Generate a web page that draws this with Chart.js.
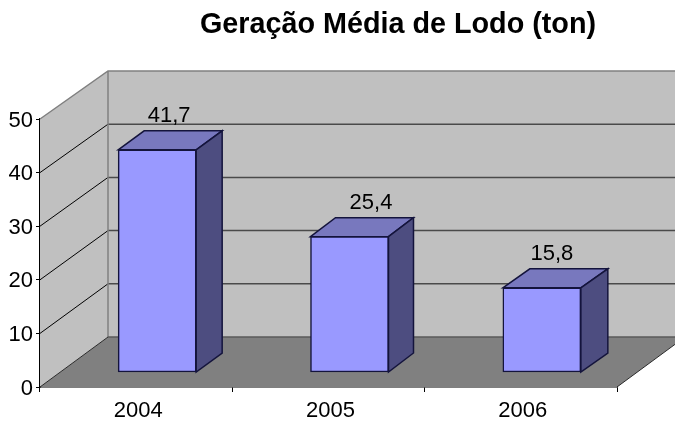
<!DOCTYPE html>
<html>
<head>
<meta charset="utf-8">
<title>Geração Média de Lodo</title>
<script src="https://cdn.jsdelivr.net/npm/chart.js@4"></script>
<style>
    html, body { margin: 0; padding: 0; background: #fff; }
    canvas { display: block; }
</style>
</head>
<body>
<canvas id="myChart" width="675" height="421"></canvas>
<script>
const anos = ['2004', '2005', '2006'];
const lodo = [41.7, 25.4, 15.8];
const etiquetas = ['41,7', '25,4', '15,8'];
const titulo = 'Geração Média de Lodo (ton)';

// the "3D" box: how far the back wall sits from the front axes
const fundoX = 68;
const fundoBase = -50;
const fundoTopo = -48;
// where the bars stand on the floor and how deep they are
const barraX = 21;
const barraY = -15;
const barraFundoX = [26, 25, 27];
const barraFundoY = -19;
// labels are not quite centred over the bars in the original
const etiquetaX = [12, 21.5, 10];
const etiquetaY = -33.5;

function poly(ctx, pts, fill, stroke, lw) {
    ctx.beginPath();
    pts.forEach((p, i) => i ? ctx.lineTo(p[0], p[1]) : ctx.moveTo(p[0], p[1]));
    ctx.closePath();
    if (fill) { ctx.fillStyle = fill; ctx.fill(); }
    if (stroke) { ctx.strokeStyle = stroke; ctx.lineWidth = lw; ctx.stroke(); }
}

const caixa3d = {
    id: 'caixa3d',
    afterLayout(chart) {
        // title is centred over the box, not over the canvas
        chart.titleBlock.left = 121;
        chart.titleBlock.right = 675;
    },
    beforeDatasetsDraw(chart) {
        const ctx = chart.ctx;
        const y = chart.scales.y;
        const x = chart.scales.x;
        const l = x.left, r = x.right;
        const y0 = y.getPixelForValue(0);
        const y50 = y.getPixelForValue(50);
        const fundo = py => py + fundoBase + (fundoTopo - fundoBase) * (y0 - py) / (y0 - y50);

        ctx.save();
        // back wall, side wall, floor
        poly(ctx, [[l + fundoX, fundo(y50)], [r + fundoX, fundo(y50)], [r + fundoX, fundo(y0)], [l + fundoX, fundo(y0)]], '#c0c0c0');
        poly(ctx, [[l, y50], [l + fundoX, fundo(y50)], [l + fundoX, fundo(y0)], [l, y0]], '#c0c0c0');
        poly(ctx, [[l, y0], [l + fundoX, fundo(y0)], [r + fundoX, fundo(y0)], [r, y0]], '#808080');

        // grid lines over side wall and back wall
        y.ticks.forEach(t => {
            const py = y.getPixelForValue(t.value);
            if (t.value > 0 && t.value < 50) {
                ctx.strokeStyle = '#000';
                ctx.lineWidth = 1;
                ctx.beginPath();
                ctx.moveTo(l, py);
                ctx.lineTo(l + fundoX, fundo(py));
                ctx.stroke();
                ctx.strokeStyle = '#4a4a4a';
                ctx.lineWidth = 1.5;
                ctx.beginPath();
                ctx.moveTo(l + fundoX, fundo(py));
                ctx.lineTo(r + fundoX, fundo(py));
                ctx.stroke();
            }
        });

        // wall edges
        ctx.strokeStyle = '#808080';
        ctx.lineWidth = 1.5;
        ctx.beginPath();
        ctx.moveTo(l, y50);
        ctx.lineTo(l + fundoX, fundo(y50));
        ctx.lineTo(r + fundoX, fundo(y50));
        ctx.moveTo(l + fundoX, fundo(y50));
        ctx.lineTo(l + fundoX, fundo(y0));
        ctx.stroke();
        ctx.strokeStyle = '#5a5a5a';
        ctx.beginPath();
        ctx.moveTo(l + fundoX, fundo(y0));
        ctx.lineTo(r + fundoX, fundo(y0));
        ctx.stroke();
        ctx.strokeStyle = '#2a2a2a';
        ctx.lineWidth = 1;
        ctx.beginPath();
        ctx.moveTo(l, y0);
        ctx.lineTo(l + fundoX, fundo(y0));
        ctx.moveTo(r, y0);
        ctx.lineTo(r + fundoX, fundo(y0));
        ctx.stroke();

        // bars are moved back onto the floor, top and side faces first
        ctx.translate(barraX, barraY);
        const meta = chart.getDatasetMeta(0);
        meta.data.forEach((bar, i) => {
            const p = bar.getProps(['x', 'y', 'base', 'width']);
            const a = p.x - p.width / 2, b = p.x + p.width / 2;
            const dx = barraFundoX[i], dy = barraFundoY;
            poly(ctx, [[a, p.y], [a + dx, p.y + dy], [b + dx, p.y + dy], [b, p.y]], '#7878be', '#14143c', 1.5);
            poly(ctx, [[b, p.y], [b + dx, p.y + dy], [b + dx, p.base + dy], [b, p.base]], '#4d4d80', '#14143c', 1.5);
        });
    },
    afterDatasetsDraw(chart) {
        const ctx = chart.ctx;
        const meta = chart.getDatasetMeta(0);
        ctx.fillStyle = '#000';
        ctx.font = '22px "Liberation Sans"';
        ctx.textAlign = 'center';
        ctx.textBaseline = 'middle';
        meta.data.forEach((bar, i) => {
            ctx.fillText(etiquetas[i], bar.x + etiquetaX[i], bar.y + etiquetaY);
        });
        ctx.restore();
    }
};

const chart = new Chart(document.getElementById('myChart').getContext('2d'), {
    type: 'bar',
    data: {
        labels: anos,
        datasets: [{
            data: lodo,
            yAxisID: 'yBarras',
            backgroundColor: '#9999ff',
            borderColor: '#14143c',
            borderWidth: 1.5,
            borderSkipped: false,
            barThickness: 78,
            clip: false
        }]
    },
    plugins: [caixa3d],
    options: {
        responsive: false,
        animation: false,
        layout: { padding: { left: 0, right: 58, top: 0, bottom: 0 } },
        plugins: {
            legend: { display: false },
            tooltip: { enabled: false },
            title: {
                display: true,
                text: titulo,
                color: '#000',
                font: { family: '"Liberation Sans"', size: 28.75, weight: 'bold' },
                padding: { top: 8, bottom: 76.5 }
            }
        },
        scales: {
            x: {
                offset: true,
                afterFit(s) { s.height = 34; },
                grid: { offset: true, drawOnChartArea: false, tickLength: 5, color: '#000' },
                border: { color: '#000', width: 1.5 },
                ticks: { color: '#000', padding: 6, labelOffset: 2, font: { family: '"Liberation Sans"', size: 22 } }
            },
            y: {
                min: 0,
                max: 50,
                afterFit(s) { s.width = 40; },
                grid: { drawOnChartArea: false, tickLength: 4, color: '#000' },
                border: { color: '#000', width: 1.5 },
                ticks: { stepSize: 10, color: '#000', padding: 3, labelOffset: 1.5, font: { family: '"Liberation Sans"', size: 22 } }
            },
            // bars stand a little further back, so their scale is slightly smaller
            yBarras: {
                display: false,
                min: 0,
                max: 50.3
            }
        }
    }
});
</script>
</body>
</html>
